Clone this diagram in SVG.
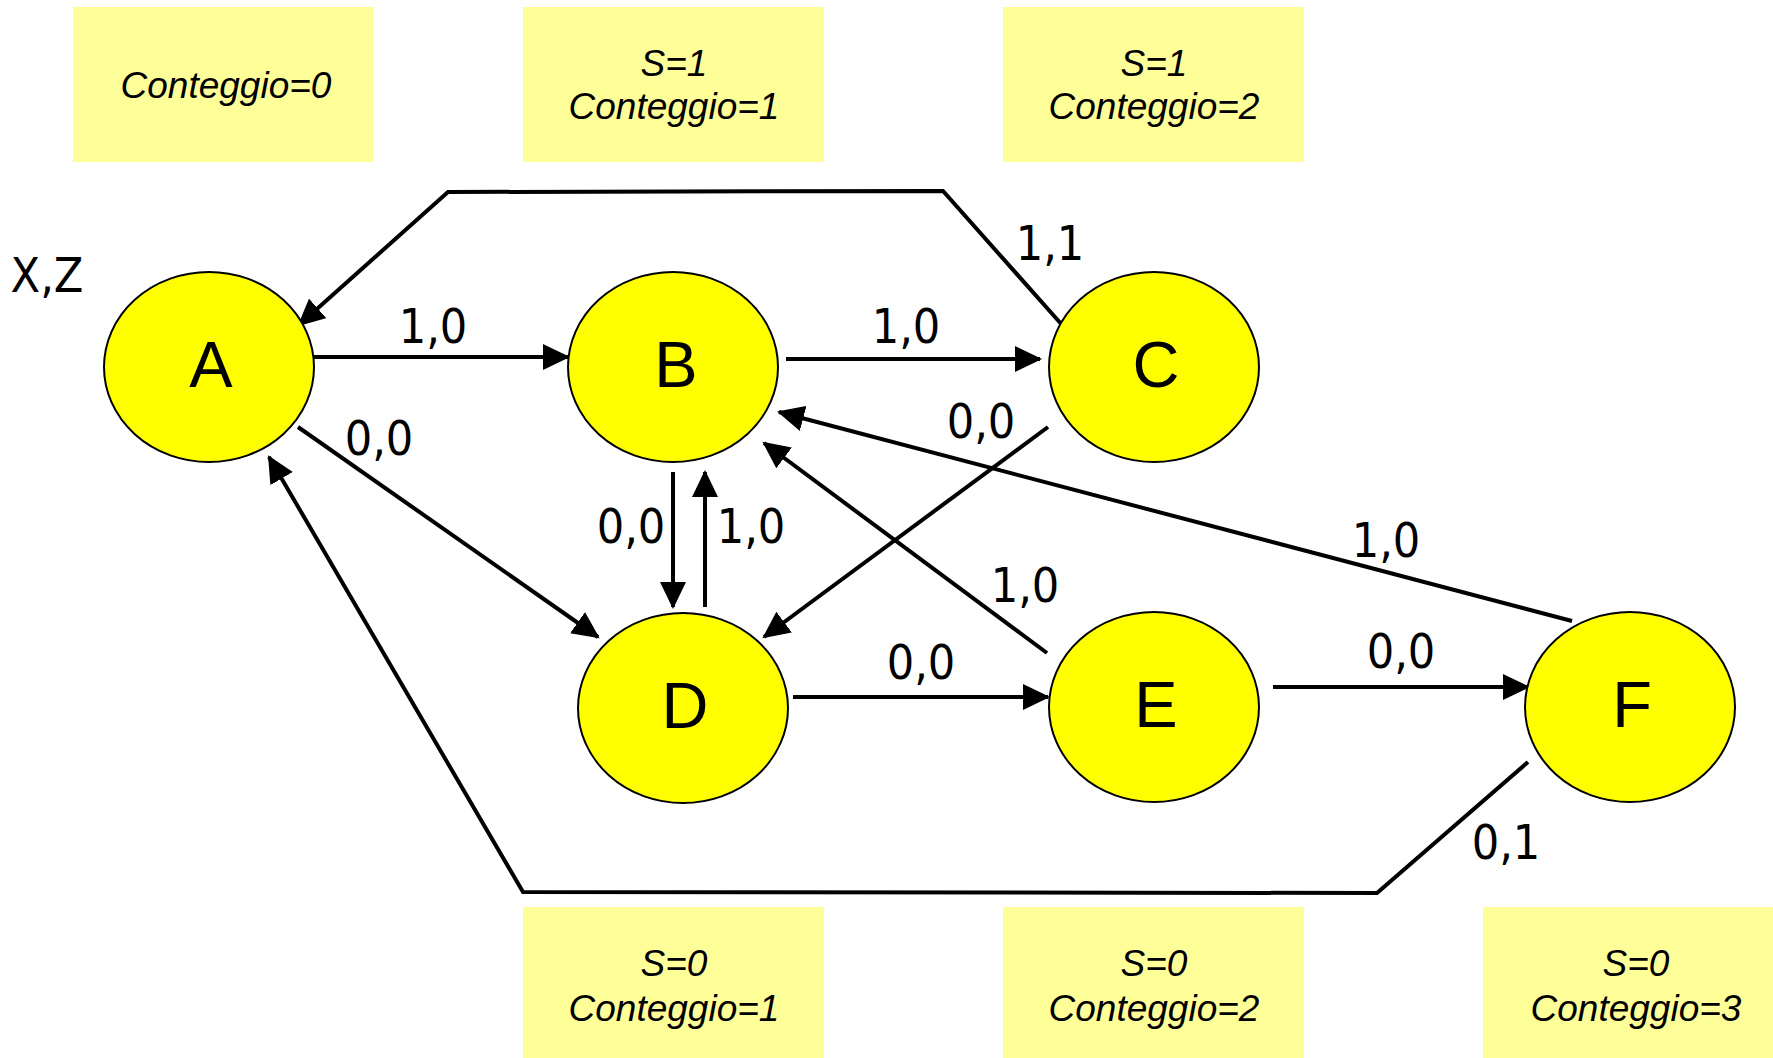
<svg xmlns="http://www.w3.org/2000/svg" width="1773" height="1058" viewBox="0 0 1773 1058">
<style>
.box{fill:#FFFF99;stroke:none}
.bt{font-family:"Liberation Sans",Arial,sans-serif;font-style:italic;font-size:37px;text-anchor:middle;fill:#000}
.st{fill:#FFFF00;stroke:#000;stroke-width:2}
.nt{font-family:"Liberation Sans",Arial,sans-serif;font-size:65px;text-anchor:middle;fill:#000}
.lb{font-family:"DejaVu Sans Condensed","DejaVu Sans",sans-serif;font-size:48px;text-anchor:middle;fill:#000}
.e{fill:none;stroke:#000;stroke-width:4;marker-end:url(#ah)}
</style>
<defs>
<marker id="ah" markerWidth="28" markerHeight="26" refX="25" refY="13" orient="auto" markerUnits="userSpaceOnUse">
<path d="M0,0 L27,13 L0,26 z" fill="#000"/>
</marker>
</defs>
<rect width="1773" height="1058" fill="#fff"/>
<g id="notes">
<rect class="box" x="73" y="7" width="300" height="155"/>
<text class="bt" x="226" y="98">Conteggio=0</text>
<rect class="box" x="523" y="7" width="301" height="155"/>
<text class="bt" x="674" y="76">S=1</text>
<text class="bt" x="674" y="119">Conteggio=1</text>
<rect class="box" x="1003" y="7" width="301" height="155"/>
<text class="bt" x="1154" y="76">S=1</text>
<text class="bt" x="1154" y="119">Conteggio=2</text>
<rect class="box" x="523" y="907" width="301" height="151"/>
<text class="bt" x="674" y="976">S=0</text>
<text class="bt" x="674" y="1021">Conteggio=1</text>
<rect class="box" x="1003" y="907" width="301" height="151"/>
<text class="bt" x="1154" y="976">S=0</text>
<text class="bt" x="1154" y="1021">Conteggio=2</text>
<rect class="box" x="1483" y="907" width="290" height="151"/>
<text class="bt" x="1636" y="976">S=0</text>
<text class="bt" x="1636" y="1021">Conteggio=3</text>
</g>
<text class="lb" x="47" y="292">X,Z</text>
<g id="connectors">
<line class="e" x1="314" y1="357" x2="568" y2="357"/>
<line class="e" x1="786" y1="359" x2="1040" y2="359"/>
<polyline class="e" points="1063,326 943,191 448,192 299,325"/>
<line class="e" x1="298" y1="427" x2="598" y2="637"/>
<line class="e" x1="1048" y1="427" x2="764" y2="637"/>
<line class="e" x1="673" y1="472" x2="673" y2="607"/>
<line class="e" x1="705" y1="607" x2="705" y2="472"/>
<line class="e" x1="1047" y1="653" x2="764" y2="443"/>
<line class="e" x1="1572" y1="621" x2="779" y2="412"/>
<line class="e" x1="793" y1="697" x2="1048" y2="697"/>
<line class="e" x1="1273" y1="687" x2="1528" y2="687"/>
<polyline class="e" points="1528,762 1377,893 523,892 269,457"/>
<text class="lb" x="433" y="343">1,0</text>
<text class="lb" x="906" y="343">1,0</text>
<text class="lb" x="1050" y="260">1,1</text>
<text class="lb" x="379" y="455">0,0</text>
<text class="lb" x="981" y="438">0,0</text>
<text class="lb" x="631" y="543">0,0</text>
<text class="lb" x="751" y="543">1,0</text>
<text class="lb" x="1025" y="602">1,0</text>
<text class="lb" x="1386" y="557">1,0</text>
<text class="lb" x="921" y="679">0,0</text>
<text class="lb" x="1401" y="668">0,0</text>
<text class="lb" x="1506" y="859">0,1</text>
</g>
<g id="A"><ellipse class="st" cx="209" cy="367" rx="105" ry="95"/><text class="nt" x="211" y="387">A</text></g>
<g id="B"><ellipse class="st" cx="673" cy="367" rx="105" ry="95"/><text class="nt" x="676" y="387">B</text></g>
<g id="C"><ellipse class="st" cx="1154" cy="367" rx="105" ry="95"/><text class="nt" x="1156" y="387">C</text></g>
<g id="D"><ellipse class="st" cx="683" cy="708" rx="105" ry="95"/><text class="nt" x="685" y="728">D</text></g>
<g id="E"><ellipse class="st" cx="1154" cy="707" rx="105" ry="95"/><text class="nt" x="1156" y="727">E</text></g>
<g id="F"><ellipse class="st" cx="1630" cy="707" rx="105" ry="95"/><text class="nt" x="1632" y="727">F</text></g>
</svg>
